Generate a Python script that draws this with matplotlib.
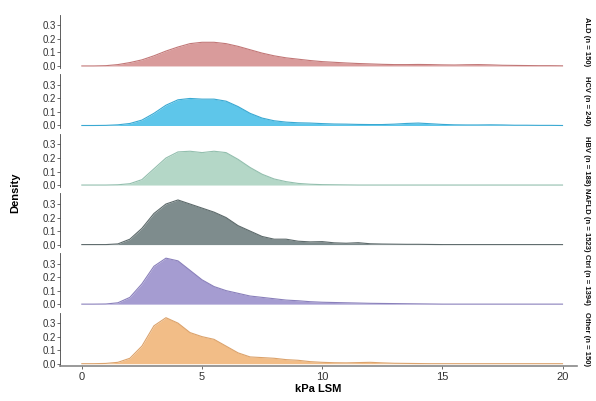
import numpy as np
import matplotlib
matplotlib.use("Agg")
import matplotlib.pyplot as plt

plt.rcParams["font.family"] = ["Liberation Sans", "DejaVu Sans"]

kpa = np.arange(0, 20.5, 0.5)

dens_1 = [0, 0, 0.002, 0.01, 0.025, 0.045, 0.075, 0.11, 0.14, 0.165, 0.175, 0.175, 0.165, 0.145,
          0.12, 0.095, 0.075, 0.06, 0.05, 0.04, 0.032, 0.027, 0.022, 0.018, 0.015, 0.012, 0.01,
          0.01, 0.011, 0.01, 0.008, 0.007, 0.009, 0.01, 0.008, 0.005, 0.004, 0.003, 0.002, 0.002, 0.001]
dens_2 = [0, 0, 0.001, 0.005, 0.015, 0.04, 0.09, 0.15, 0.19, 0.2, 0.195, 0.195, 0.18, 0.14,
          0.09, 0.055, 0.035, 0.025, 0.02, 0.018, 0.014, 0.011, 0.01, 0.008, 0.007, 0.007, 0.01,
          0.015, 0.018, 0.013, 0.008, 0.005, 0.004, 0.004, 0.005, 0.004, 0.002, 0.002, 0.001, 0.001, 0]
dens_3 = [0, 0, 0, 0.002, 0.01, 0.04, 0.12, 0.2, 0.245, 0.25, 0.24, 0.25, 0.24, 0.19,
          0.13, 0.08, 0.045, 0.025, 0.012, 0.006, 0.003, 0.002, 0.001, 0, 0, 0, 0,
          0, 0, 0, 0, 0, 0, 0, 0, 0, 0, 0, 0, 0, 0]
dens_4 = [0, 0, 0, 0.005, 0.04, 0.12, 0.23, 0.3, 0.33, 0.3, 0.27, 0.24, 0.2, 0.14,
          0.1, 0.06, 0.04, 0.04, 0.025, 0.02, 0.022, 0.013, 0.01, 0.014, 0.006, 0.004, 0.003,
          0.002, 0.002, 0.001, 0, 0, 0, 0, 0, 0, 0, 0, 0, 0, 0]
dens_5 = [0, 0, 0.001, 0.01, 0.05, 0.15, 0.28, 0.34, 0.32, 0.25, 0.18, 0.13, 0.1, 0.08,
          0.06, 0.05, 0.04, 0.03, 0.025, 0.018, 0.014, 0.012, 0.01, 0.008, 0.006, 0.005, 0.004,
          0.003, 0.002, 0.001, 0, 0, 0, 0, 0, 0, 0, 0, 0, 0, 0]
dens_6 = [0, 0, 0.002, 0.01, 0.04, 0.13, 0.28, 0.34, 0.3, 0.23, 0.2, 0.18, 0.13, 0.08,
          0.05, 0.045, 0.04, 0.03, 0.025, 0.015, 0.01, 0.007, 0.006, 0.008, 0.01, 0.006, 0.003,
          0.002, 0.001, 0, 0, 0, 0, 0, 0, 0, 0, 0, 0, 0, 0]

groups = ["ALD (n = 150)", "HCV (n = 240)", "HBV (n = 188)",
          "NAFLD (n = 1523)", "Ctrl (n = 1394)", "Other (n = 150)"]
densities = [dens_1, dens_2, dens_3, dens_4, dens_5, dens_6]
fills = ["#d99b9b", "#5ec6ea", "#b4d7c7", "#7e8c8d", "#a59cd1", "#f2bd87"]
lines = ["#c27777", "#3aa9d2", "#93bfae", "#5d6a6b", "#8a80bb", "#dca36c"]

fig, axes = plt.subplots(6, 1, figsize=(5.96, 4.01), dpi=100, sharex=True)
fig.subplots_adjust(left=0.101, right=0.968, top=0.963, bottom=0.087, hspace=0.112)

for ax, dens, fc, lc, lab in zip(axes, densities, fills, lines, groups):
    ax.fill_between(kpa, dens, 0, color=fc, lw=0)
    ax.plot(kpa, dens, color=lc, lw=0.8)
    ax.set_xlim(-0.9, 20.6)
    ax.set_ylim(-0.018, 0.378)
    ax.set_yticks([0.0, 0.1, 0.2, 0.3])
    ax.set_yticklabels(["0.0", "0.1", "0.2", "0.3"])
    for s in ["top", "right", "bottom"]:
        ax.spines[s].set_visible(False)
    ax.spines["left"].set_color("#444444")
    ax.spines["left"].set_linewidth(0.6)
    ax.tick_params(axis="y", labelsize=7, colors="#333333", length=2, width=0.5, pad=1)
    ax.tick_params(axis="x", length=0)
    ax.text(1.012, 0.5, lab, transform=ax.transAxes, rotation=-90,
            ha="left", va="center", fontsize=5.5, color="#111111", fontweight="bold")

bottom = axes[-1]
bottom.spines["bottom"].set_visible(True)
bottom.spines["bottom"].set_color("#888888")
bottom.spines["bottom"].set_linewidth(1.2)
bottom.set_xticks([0, 5, 10, 15, 20])
bottom.tick_params(axis="x", labelsize=8, colors="#333333", length=2, width=0.5, pad=2)
bottom.set_xlabel("kPa LSM", fontsize=8, labelpad=2, fontweight="bold")

fig.text(0.025, 0.52, "Density", rotation=90, ha="center", va="center",
         fontsize=8, fontweight="bold")

fig.savefig("out.png", dpi=100)
